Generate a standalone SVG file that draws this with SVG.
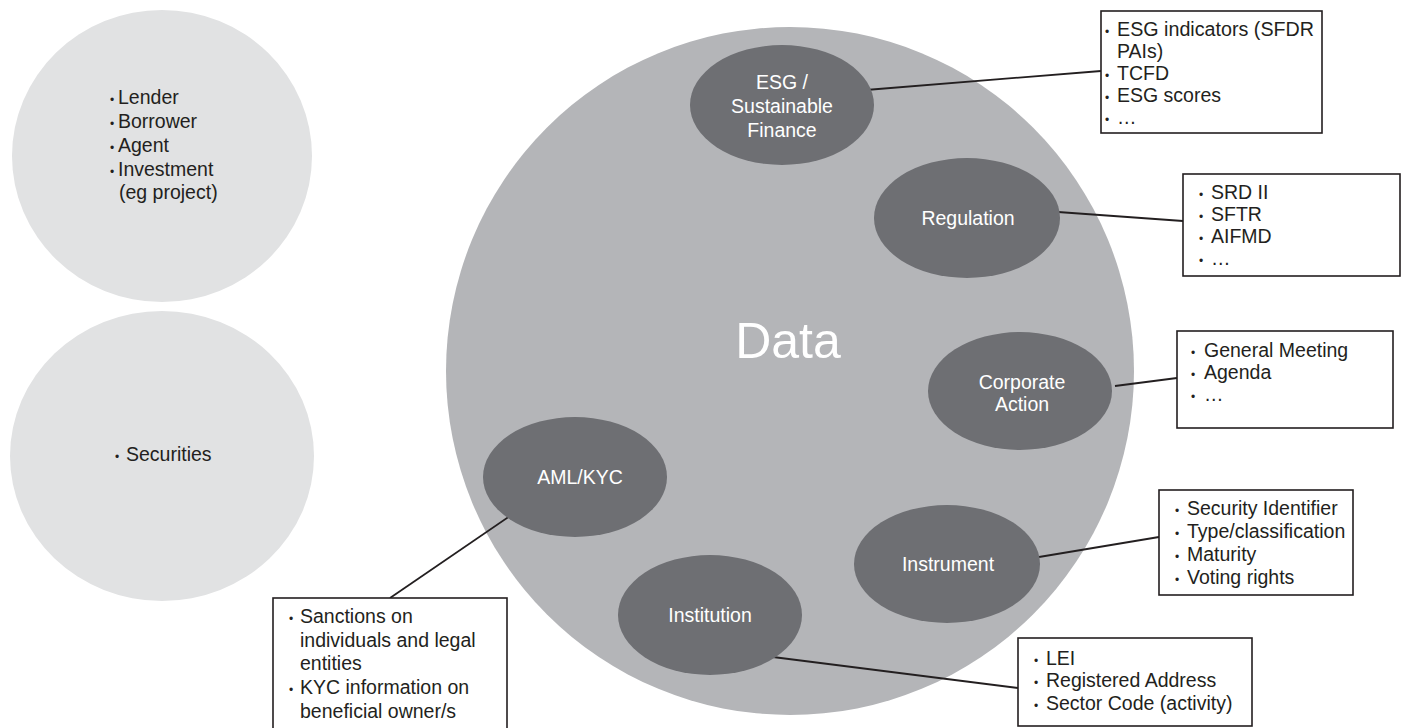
<svg xmlns="http://www.w3.org/2000/svg" width="1405" height="728" viewBox="0 0 1405 728">
<style>
.lt{fill:#e1e2e3}
.big{fill:#b4b5b8}
.dk{fill:#6e6f73}
.lbl{font-family:"Liberation Sans",Arial,sans-serif;font-size:19.5px;fill:#ffffff;text-anchor:middle}
.txt{font-family:"Liberation Sans",Arial,sans-serif;font-size:19.5px;fill:#231f20}
.bul{font-size:12px}
.box{fill:#ffffff;stroke:#231f20;stroke-width:1.6}
.con{stroke:#231f20;stroke-width:1.8;fill:none}
</style>
<rect width="1405" height="728" fill="#ffffff"/>
<g id="parties">
<ellipse class="lt" cx="162" cy="156" rx="150" ry="146"/>
<text class="txt" x="110" y="104"><tspan class="bul">•</tspan><tspan x="118">Lender</tspan></text>
<text class="txt" x="110" y="128"><tspan class="bul">•</tspan><tspan x="118">Borrower</tspan></text>
<text class="txt" x="110" y="152"><tspan class="bul">•</tspan><tspan x="118">Agent</tspan></text>
<text class="txt" x="110" y="176"><tspan class="bul">•</tspan><tspan x="118">Investment</tspan></text>
<text class="txt" x="119" y="199">(eg project)</text>
</g>
<g id="securities">
<ellipse class="lt" cx="162" cy="456" rx="152" ry="145"/>
<text class="txt" x="115" y="461"><tspan class="bul">•</tspan><tspan x="126">Securities</tspan></text>
</g>
<g id="data">
<circle class="big" cx="790" cy="371" r="344"/>
<text x="788" y="358" font-family="Liberation Sans, Arial, sans-serif" font-size="50" fill="#ffffff" text-anchor="middle">Data</text>
</g>
<g id="connectors">
<line class="con" x1="866" y1="90" x2="1101" y2="71"/>
<line class="con" x1="1058" y1="212" x2="1183" y2="221"/>
<line class="con" x1="1115" y1="386" x2="1177" y2="378"/>
<line class="con" x1="1039" y1="557" x2="1159" y2="537"/>
<line class="con" x1="765" y1="656" x2="1018" y2="688"/>
<line class="con" x1="510" y1="516" x2="390" y2="598"/>
</g>
<g id="esg">
<ellipse class="dk" cx="782" cy="105" rx="92" ry="60"/>
<text class="lbl" x="782" y="89">ESG /</text>
<text class="lbl" x="782" y="113">Sustainable</text>
<text class="lbl" x="782" y="137">Finance</text>
</g>
<g id="regulation">
<ellipse class="dk" cx="967" cy="218" rx="93" ry="60"/>
<text class="lbl" x="968" y="225">Regulation</text>
</g>
<g id="corporate-action">
<ellipse class="dk" cx="1020" cy="391" rx="92" ry="59"/>
<text class="lbl" x="1022" y="389">Corporate</text>
<text class="lbl" x="1022" y="411">Action</text>
</g>
<g id="instrument">
<ellipse class="dk" cx="947" cy="564" rx="93" ry="59"/>
<text class="lbl" x="948" y="571">Instrument</text>
</g>
<g id="institution">
<ellipse class="dk" cx="710" cy="615" rx="92" ry="60"/>
<text class="lbl" x="710" y="622">Institution</text>
</g>
<g id="aml-kyc">
<ellipse class="dk" cx="575" cy="477" rx="92" ry="60"/>
<text class="lbl" x="580" y="484">AML/KYC</text>
</g>
<g id="esg-box">
<rect class="box" x="1101" y="11" width="221" height="122"/>
<text class="txt" x="1105" y="36"><tspan class="bul">•</tspan><tspan x="1117" textLength="197" lengthAdjust="spacingAndGlyphs">ESG indicators (SFDR</tspan></text>
<text class="txt" x="1117" y="58">PAIs)</text>
<text class="txt" x="1105" y="80"><tspan class="bul">•</tspan><tspan x="1117">TCFD</tspan></text>
<text class="txt" x="1105" y="102"><tspan class="bul">•</tspan><tspan x="1117">ESG scores</tspan></text>
<text class="txt" x="1105" y="124"><tspan class="bul">•</tspan><tspan x="1117">…</tspan></text>
</g>
<g id="regulation-box">
<rect class="box" x="1183" y="174" width="217" height="102"/>
<text class="txt" x="1199" y="199"><tspan class="bul">•</tspan><tspan x="1211">SRD II</tspan></text>
<text class="txt" x="1199" y="221"><tspan class="bul">•</tspan><tspan x="1211">SFTR</tspan></text>
<text class="txt" x="1199" y="243"><tspan class="bul">•</tspan><tspan x="1211">AIFMD</tspan></text>
<text class="txt" x="1199" y="265"><tspan class="bul">•</tspan><tspan x="1211">…</tspan></text>
</g>
<g id="corporate-box">
<rect class="box" x="1177" y="331" width="216" height="97"/>
<text class="txt" x="1191" y="357"><tspan class="bul">•</tspan><tspan x="1204">General Meeting</tspan></text>
<text class="txt" x="1191" y="379"><tspan class="bul">•</tspan><tspan x="1204">Agenda</tspan></text>
<text class="txt" x="1191" y="401"><tspan class="bul">•</tspan><tspan x="1204">…</tspan></text>
</g>
<g id="instrument-box">
<rect class="box" x="1159" y="490" width="194" height="105"/>
<text class="txt" x="1175" y="515"><tspan class="bul">•</tspan><tspan x="1187">Security Identifier</tspan></text>
<text class="txt" x="1175" y="538"><tspan class="bul">•</tspan><tspan x="1187">Type/classification</tspan></text>
<text class="txt" x="1175" y="561"><tspan class="bul">•</tspan><tspan x="1187">Maturity</tspan></text>
<text class="txt" x="1175" y="584"><tspan class="bul">•</tspan><tspan x="1187">Voting rights</tspan></text>
</g>
<g id="institution-box">
<rect class="box" x="1018" y="638" width="234" height="88"/>
<text class="txt" x="1034" y="665"><tspan class="bul">•</tspan><tspan x="1046">LEI</tspan></text>
<text class="txt" x="1034" y="687"><tspan class="bul">•</tspan><tspan x="1046">Registered Address</tspan></text>
<text class="txt" x="1034" y="710"><tspan class="bul">•</tspan><tspan x="1046">Sector Code (activity)</tspan></text>
</g>
<g id="aml-box">
<rect class="box" x="273" y="598" width="234" height="140"/>
<text class="txt" x="289" y="623"><tspan class="bul">•</tspan><tspan x="300">Sanctions on</tspan></text>
<text class="txt" x="300" y="647">individuals and legal</text>
<text class="txt" x="300" y="670">entities</text>
<text class="txt" x="289" y="694"><tspan class="bul">•</tspan><tspan x="300">KYC information on</tspan></text>
<text class="txt" x="300" y="718">beneficial owner/s</text>
</g>
</svg>
